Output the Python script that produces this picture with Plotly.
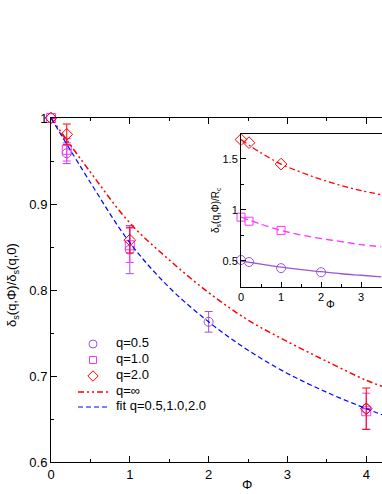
import plotly.graph_objects as go

# ---- main panel data ----
phi_05 = [0, 0.2, 1, 2, 4]
ds_05 = [1.0, 0.959, 0.847, 0.763, 0.662]
err_05 = [0, 0.012, 0.028, 0.012, 0.0]

phi_10 = [0, 0.2, 1, 4]
ds_10 = [1.0, 0.963, 0.852, 0.659]
err_10 = [0, 0.013, 0.02, 0.021]

phi_20 = [0, 0.2, 1, 4]
ds_20 = [1.0, 0.981, 0.858, 0.662]
err_20 = [0, 0.012, 0.015, 0.024]

phi_curve = [0, 0.5, 1, 1.5, 2, 2.5, 3, 3.5, 4, 4.2]
ds_inf = [1.0, 0.937, 0.878, 0.835, 0.797, 0.765, 0.74, 0.717, 0.695, 0.688]
ds_fit = [1.0, 0.925, 0.855, 0.803, 0.763, 0.73, 0.703, 0.681, 0.662, 0.655]

# ---- inset data ----
in_phi_05 = [0, 0.2, 1, 2]
in_05 = [0.51, 0.49, 0.43, 0.39]
in_phi_10 = [0, 0.2, 1]
in_10 = [0.93, 0.89, 0.80]
in_phi_20 = [0, 0.2, 1]
in_20 = [1.69, 1.66, 1.45]
in_phi_curve = [0, 0.5, 1, 1.5, 2, 2.5, 3, 3.5]
in_fit_05 = [0.50, 0.47, 0.44, 0.415, 0.395, 0.375, 0.36, 0.345]
in_fit_10 = [0.93, 0.86, 0.80, 0.755, 0.72, 0.69, 0.66, 0.64]
in_fit_20 = [1.69, 1.56, 1.45, 1.37, 1.30, 1.24, 1.19, 1.15]

main_labels = ["q=0.5", "q=1.0", "q=2.0", "q=∞", "fit q=0.5,1.0,2.0"]
inset_labels = ["q=0.5", "q=1.0", "q=2.0"]

PURPLE = "#9b55d8"
MAGENTA = "#ff33ff"
RED = "#ff0000"
BLUE = "#0000ff"
FONT = "Liberation Sans, Arial, sans-serif"
DASH_INF = "6px,3px,2px,3px,2px,3px"
DASH_FIT = "5px,3px"

# plot area in pixels
L, R, T, B = 51, 382, 118, 462


def px(x, y):
    return (x - L) / (R - L), (B - y) / (B - T)


fig = go.Figure()

sym = dict(size=9, line=dict(width=1))
fig.add_trace(go.Scatter(
    x=phi_05, y=ds_05, mode="markers",
    marker=dict(symbol="circle-open", color=PURPLE, **sym),
    error_y=dict(type="data", array=err_05, color=PURPLE, thickness=1, width=4),
    cliponaxis=False, showlegend=False))
fig.add_trace(go.Scatter(
    x=phi_10, y=ds_10, mode="markers",
    marker=dict(symbol="square-open", color=MAGENTA, **sym),
    error_y=dict(type="data", array=err_10, color=MAGENTA, thickness=1, width=4),
    cliponaxis=False, showlegend=False))
fig.add_trace(go.Scatter(
    x=phi_20, y=ds_20, mode="markers",
    marker=dict(symbol="diamond-open", color=RED, **sym),
    error_y=dict(type="data", array=err_20, color=RED, thickness=1, width=4),
    cliponaxis=False, showlegend=False))
fig.add_trace(go.Scatter(
    x=phi_curve, y=ds_inf, mode="lines", showlegend=False,
    line=dict(color=RED, width=1.5, dash=DASH_INF, shape="spline")))
fig.add_trace(go.Scatter(
    x=phi_curve, y=ds_fit, mode="lines", showlegend=False,
    line=dict(color=BLUE, width=1.2, dash=DASH_FIT, shape="spline")))

# inset
fig.add_trace(go.Scatter(
    x=in_phi_curve, y=in_fit_05, mode="lines", showlegend=False,
    line=dict(color=PURPLE, width=1.3, shape="spline"), xaxis="x2", yaxis="y2"))
fig.add_trace(go.Scatter(
    x=in_phi_curve, y=in_fit_10, mode="lines", showlegend=False,
    line=dict(color=MAGENTA, width=1.3, dash="7px,4px", shape="spline"), xaxis="x2", yaxis="y2"))
fig.add_trace(go.Scatter(
    x=in_phi_curve, y=in_fit_20, mode="lines", showlegend=False,
    line=dict(color=RED, width=1.3, dash="6px,3px,2px,3px", shape="spline"), xaxis="x2", yaxis="y2"))
fig.add_trace(go.Scatter(
    x=in_phi_05, y=in_05, mode="markers", showlegend=False,
    marker=dict(symbol="circle-open", color=PURPLE, size=9, line=dict(width=1)),
    cliponaxis=False, xaxis="x2", yaxis="y2"))
fig.add_trace(go.Scatter(
    x=in_phi_10, y=in_10, mode="markers", showlegend=False,
    marker=dict(symbol="square-open", color=MAGENTA, size=8, line=dict(width=1)),
    cliponaxis=False, xaxis="x2", yaxis="y2"))
fig.add_trace(go.Scatter(
    x=in_phi_20, y=in_20, mode="markers", showlegend=False,
    marker=dict(symbol="diamond-open", color=RED, size=9, line=dict(width=1)),
    cliponaxis=False, xaxis="x2", yaxis="y2"))

# ---- legends, drawn on an invisible pixel-coordinate overlay ----
def leg_marker(x, y, symbol, color, size):
    fig.add_trace(go.Scatter(
        x=[x], y=[y], mode="markers", showlegend=False, hoverinfo="skip",
        marker=dict(symbol=symbol, color=color, size=size, line=dict(width=1)),
        cliponaxis=False, xaxis="x3", yaxis="y3"))


def leg_line(x0, x1, y, color, dash, width):
    fig.add_trace(go.Scatter(
        x=[x0, x1], y=[y, y], mode="lines", showlegend=False, hoverinfo="skip",
        line=dict(color=color, dash=dash, width=width),
        cliponaxis=False, xaxis="x3", yaxis="y3"))


def leg_text(x, y, text, size):
    fig.add_trace(go.Scatter(
        x=[x], y=[y], mode="text", text=[text], textposition="middle right",
        textfont=dict(size=size, family=FONT, color="black"), showlegend=False,
        hoverinfo="skip", cliponaxis=False, xaxis="x3", yaxis="y3"))


main_rows = [344, 360, 376, 392, 407]
leg_marker(93, main_rows[0], "circle-open", PURPLE, 8)
leg_marker(93, main_rows[1], "square-open", MAGENTA, 7)
leg_marker(93, main_rows[2], "diamond-open", RED, 8)
leg_line(78, 110, main_rows[3], RED, DASH_INF, 1.5)
leg_line(78, 110, main_rows[4], BLUE, DASH_FIT, 1.2)
for row, lab in zip(main_rows, main_labels):
    leg_text(116, row, lab, 13)

inset_rows = [143, 157, 171]
leg_marker(340, inset_rows[0], "circle-open", PURPLE, 9)
leg_marker(340, inset_rows[1], "square-open", MAGENTA, 8)
leg_marker(340, inset_rows[2], "diamond-open", RED, 9)
for row, lab in zip(inset_rows, inset_labels):
    leg_text(357, row, lab, 11)

axis_common = dict(showline=True, linecolor="black", linewidth=1, ticks="inside",
                   tickcolor="black", showgrid=False, zeroline=False)

ix0, iy1 = px(241, 134)
ix1, iy0 = px(382, 287)

fig.update_layout(
    width=382, height=494,
    margin=dict(l=L, r=382 - R, t=T, b=494 - B),
    paper_bgcolor="white", plot_bgcolor="white",
    font=dict(family=FONT, color="black", size=13),
    showlegend=False,
    xaxis=dict(range=[0, 4.2], domain=[0, 1], tickvals=[0, 1, 2, 3, 4], ticklen=6,
               mirror="ticks", minor=dict(dtick=0.5, ticklen=3, ticks="inside", tickcolor="black"),
               **axis_common),
    yaxis=dict(range=[0.6, 1.0], domain=[0, 1], tickvals=[0.6, 0.7, 0.8, 0.9, 1.0],
               ticktext=["0.6", "0.7", "0.8", "0.9", "1"], ticklen=6,
               minor=dict(dtick=0.05, ticklen=3, ticks="inside", tickcolor="black"),
               **axis_common),
    xaxis2=dict(range=[0, 3.52], domain=[ix0, ix1], anchor="y2", tickvals=[0, 1, 2, 3],
                ticklen=5, mirror=True, tickfont=dict(size=11),
                minor=dict(dtick=0.5, ticklen=3, ticks="inside", tickcolor="black"),
                **axis_common),
    yaxis2=dict(range=[0.245, 1.745], domain=[iy0, iy1], anchor="x2",
                tickvals=[0.5, 1, 1.5], ticktext=["0.5", "1", "1.5"], ticklen=5,
                tickfont=dict(size=11),
                minor=dict(dtick=0.25, ticklen=3, ticks="inside", tickcolor="black"),
                **axis_common),
    xaxis3=dict(range=[L, R], overlaying="x", anchor="y3", visible=False, fixedrange=True),
    yaxis3=dict(range=[B, T], overlaying="y", anchor="x3", visible=False, fixedrange=True),
    annotations=[
        dict(text="Φ", x=px(247, 0)[0], y=px(0, 485)[1], xref="paper", yref="paper",
             showarrow=False, font=dict(size=13), xanchor="center", yanchor="middle"),
        dict(text="δ<sub>s</sub>(q,Φ)/δ<sub>s</sub>(q,0)", x=px(12, 0)[0], y=px(0, 285)[1],
             xref="paper", yref="paper", showarrow=False, textangle=-90,
             font=dict(size=13), xanchor="center", yanchor="middle"),
        dict(text="Φ", x=px(330, 0)[0], y=px(0, 304)[1], xref="paper", yref="paper",
             showarrow=False, font=dict(size=11), xanchor="center", yanchor="middle"),
        dict(text="δ<sub>s</sub>(q,Φ)/R<sub>c</sub>", x=px(216, 0)[0], y=px(0, 210)[1],
             xref="paper", yref="paper", showarrow=False, textangle=-90,
             font=dict(size=10), xanchor="center", yanchor="middle"),
    ],
)

fig.write_html("out.html", config={"displayModeBar": False},
               post_script="document.body.style.margin='0px';")
